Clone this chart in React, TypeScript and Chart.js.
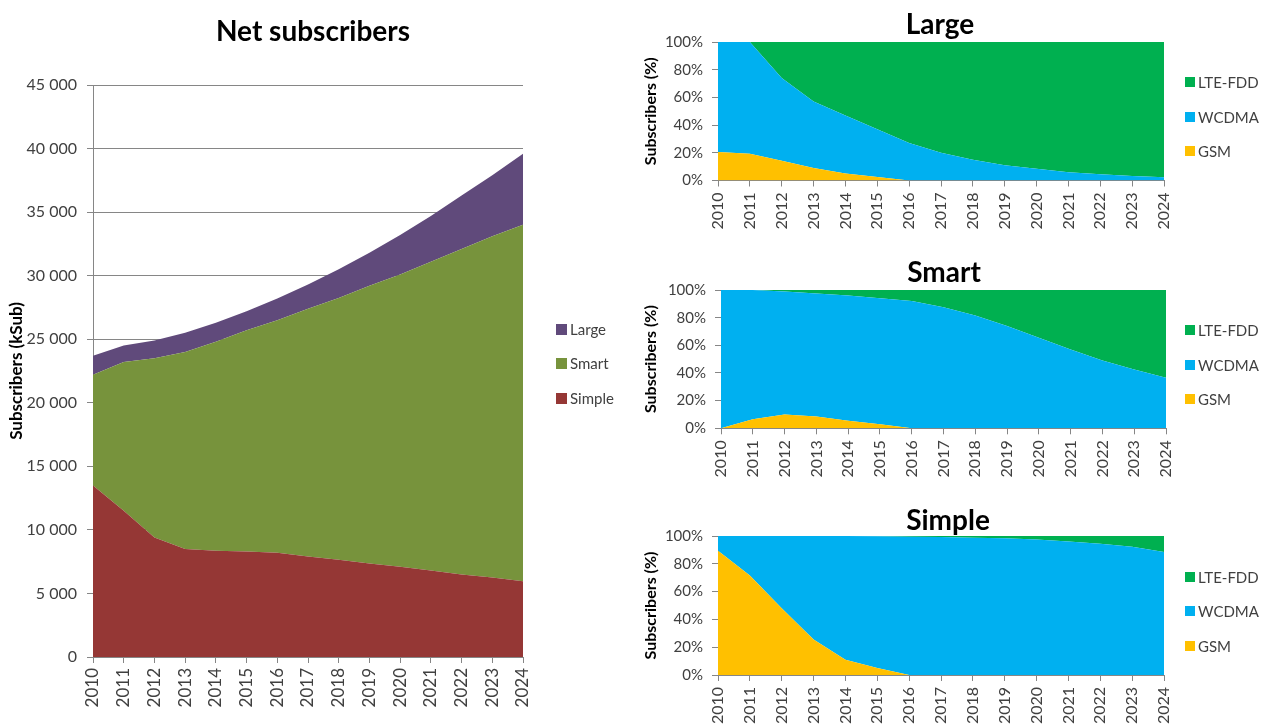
import React, { useEffect, useRef } from 'react';
import { Chart, registerables } from 'chart.js';

Chart.register(...registerables);

// ---------- data ----------
const YEARS = ['2010', '2011', '2012', '2013', '2014', '2015', '2016', '2017', '2018', '2019', '2020', '2021', '2022', '2023', '2024'];

// Net subscribers (kSub)
const SIMPLE_SUBS = [13500, 11500, 9400, 8500, 8350, 8300, 8200, 7900, 7650, 7350, 7100, 6800, 6500, 6250, 5950];
const SMART_SUBS = [8700, 11700, 14100, 15500, 16450, 17400, 18300, 19500, 20600, 21850, 23000, 24300, 25600, 26850, 28050];
const LARGE_SUBS = [1500, 1300, 1400, 1500, 1500, 1500, 1700, 1900, 2250, 2600, 3100, 3600, 4200, 4800, 5600];

// Large (%)
const LARGE_GSM = [20.5, 19.3, 14.3, 9, 5, 2.5, 0, 0, 0, 0, 0, 0, 0, 0, 0];
const LARGE_WCDMA = [79.5, 80.7, 59.7, 48, 42, 34.5, 27, 20, 15, 11, 8.5, 6, 4.5, 3.3, 2.3];
const LARGE_LTE = [0, 0, 26, 43, 53, 63, 73, 80, 85, 89, 91.5, 94, 95.5, 96.7, 97.7];

// Smart (%)
const SMART_GSM = [0, 6.5, 10, 8.5, 5.5, 3, 0, 0, 0, 0, 0, 0, 0, 0, 0];
const SMART_WCDMA = [100, 93.5, 89, 89, 90.5, 91, 92, 87.5, 81.5, 74, 65.5, 57, 49, 42.5, 36.5];
const SMART_LTE = [0, 0, 1, 2.5, 4, 6, 8, 12.5, 18.5, 26, 34.5, 43, 51, 57.5, 63.5];

// Simple (%)
const SIMPLE_GSM = [89.4, 71.5, 48, 25.5, 11, 5, 0, 0, 0, 0, 0, 0, 0, 0, 0];
const SIMPLE_WCDMA = [10.6, 28.5, 52, 74.5, 89, 94.8, 99.5, 99.2, 98.8, 98.3, 97.4, 96, 94.5, 92.2, 88.5];
const SIMPLE_LTE = [0, 0, 0, 0, 0, 0.2, 0.5, 0.8, 1.2, 1.7, 2.6, 4, 5.5, 7.8, 11.5];

const SUBS_TICKS_MAX = 45000;
const SUBS_TICKS_STEP = 5000;
const PCT_TICKS_STEP = 20;

// ---------- styles ----------
const C_SIMPLE = '#953735';
const C_SMART = '#77933C';
const C_LARGE = '#604A7B';
const C_GSM = '#FFC000';
const C_WCDMA = '#00B0F0';
const C_LTE = '#00B050';
const AXIS = '#868686';
const TXT = '#404040';
const FONT = "Lato, 'Open Sans', sans-serif";

Chart.defaults.font.family = FONT;

type Series = { label: string; data: number[]; color: string };
type Box = { left: number; top: number; width: number; height: number; pl: number; pt: number; pr: number; pb: number };

const fmtK = (v: number) => {
  if (v === 0) return '0';
  const th = Math.floor(v / 1000);
  const r = v % 1000;
  return th + ' ' + String(r).padStart(3, '0');
};
const fmtPct = (v: number) => v + '%';

function AreaCanvas(props: {
  box: Box;
  series: Series[];
  yMax: number;
  yStep: number;
  fmt: (v: number) => string;
  yTitle: string;
  yTitleSize: number;
  yTitlePad: number;
  yTickSize: number;
  xTickSize: number;
  xTickPad: number;
  yTickPad: number;
  gridLines: boolean;
}) {
  const ref = useRef<HTMLCanvasElement | null>(null);
  useEffect(() => {
    const b = props.box;
    const padTop = b.pt - b.top;
    const padRight = b.left + b.width - b.pr;
    const yW = b.pl - b.left;
    const xH = b.top + b.height - b.pb;
    const chart = new Chart(ref.current as HTMLCanvasElement, {
      type: 'line',
      data: {
        labels: YEARS,
        datasets: props.series.map((s, i) => ({
          label: s.label,
          data: s.data,
          backgroundColor: s.color,
          borderColor: 'rgba(0,0,0,0)',
          borderWidth: 1,
          pointRadius: 0,
          pointHoverRadius: 0,
          tension: 0,
          fill: i === 0 ? 'origin' : '-1',
        })),
      },
      options: {
        responsive: false,
        animation: false,
        devicePixelRatio: 1,
        events: [],
        layout: { padding: { top: padTop, right: padRight, bottom: 0, left: 0 } },
        plugins: {
          legend: { display: false },
          title: { display: false },
          tooltip: { enabled: false },
        },
        scales: {
          x: {
            type: 'category',
            offset: false,
            grid: { display: true, drawOnChartArea: false, drawTicks: true, tickLength: 6, color: AXIS },
            border: { display: true, color: AXIS },
            ticks: {
              autoSkip: false,
              minRotation: 90,
              maxRotation: 90,
              padding: props.xTickPad,
              color: TXT,
              font: { size: props.xTickSize, family: FONT },
            },
            afterFit: (s: any) => {
              s.height = xH;
            },
          },
          y: {
            stacked: true,
            min: 0,
            max: props.yMax,
            ticks: {
              stepSize: props.yStep,
              callback: (v: any) => props.fmt(Number(v)),
              color: TXT,
              padding: props.yTickPad,
              font: { size: props.yTickSize, family: FONT },
            },
            grid: { display: true, drawOnChartArea: props.gridLines, drawTicks: true, tickLength: 6, color: AXIS },
            border: { display: true, color: AXIS },
            title: {
              display: true,
              text: props.yTitle,
              color: '#000',
              font: { size: props.yTitleSize, weight: 'bold', family: FONT },
              padding: { top: props.yTitlePad, bottom: 0 },
            },
            afterFit: (s: any) => {
              s.width = yW;
            },
          },
        },
      } as any,
    });
    return () => chart.destroy();
  }, []);
  const b = props.box;
  return (
    <canvas
      ref={ref}
      width={b.width}
      height={b.height}
      style={{ position: 'absolute', left: b.left, top: b.top, width: b.width, height: b.height }}
    />
  );
}

function Title(props: { text: string; cx: number; cy: number; size: number }) {
  const w = 300;
  return (
    <div
      style={{
        position: 'absolute',
        left: props.cx - w / 2,
        top: props.cy - props.size * 0.525,
        width: w,
        height: props.size,
        lineHeight: props.size + 'px',
        fontSize: props.size,
        fontWeight: 'bold',
        fontFamily: FONT,
        textAlign: 'center',
        color: '#000',
        whiteSpace: 'nowrap',
      }}
    >
      {props.text}
    </div>
  );
}

function Legend(props: { items: { label: string; color: string; cy: number }[]; x: number; size: number; fontSize: number }) {
  return (
    <>
      {props.items.map((it) => (
        <div
          key={it.label}
          style={{
            position: 'absolute',
            left: props.x,
            top: it.cy - 10,
            height: 20,
            display: 'flex',
            alignItems: 'center',
            fontFamily: FONT,
            fontSize: props.fontSize,
            color: TXT,
            whiteSpace: 'nowrap',
          }}
        >
          <span style={{ display: 'inline-block', width: props.size, height: props.size, background: it.color, marginRight: 3 }} />
          <span style={{ lineHeight: '20px' }}>{it.label}</span>
        </div>
      ))}
    </>
  );
}

const PCT_SERIES = (gsm: number[], wcdma: number[], lte: number[]): Series[] => [
  { label: 'GSM', data: gsm, color: C_GSM },
  { label: 'WCDMA', data: wcdma, color: C_WCDMA },
  { label: 'LTE-FDD', data: lte, color: C_LTE },
];

export default function App() {
  const pctCommon = {
    yMax: 100,
    yStep: PCT_TICKS_STEP,
    fmt: fmtPct,
    yTitle: 'Subscribers (%)',
    yTitleSize: 16,
    yTitlePad: 1,
    yTickSize: 15,
    xTickSize: 16,
    xTickPad: 6,
    yTickPad: 9,
    gridLines: false,
  };
  const legendPct = (base: number) => [
    { label: 'LTE-FDD', color: C_LTE, cy: base },
    { label: 'WCDMA', color: C_WCDMA, cy: base + 34.5 },
    { label: 'GSM', color: C_GSM, cy: base + 69 },
  ];
  return (
    <div style={{ position: 'fixed', left: 0, top: 0, width: 1271, height: 728, background: '#fff', overflow: 'hidden' }}>
      <AreaCanvas
        box={{ left: 0, top: 0, width: 640, height: 728, pl: 93, pt: 85, pr: 523, pb: 657 }}
        series={[
          { label: 'Simple', data: SIMPLE_SUBS, color: C_SIMPLE },
          { label: 'Smart', data: SMART_SUBS, color: C_SMART },
          { label: 'Large', data: LARGE_SUBS, color: C_LARGE },
        ]}
        yMax={SUBS_TICKS_MAX}
        yStep={SUBS_TICKS_STEP}
        fmt={fmtK}
        yTitle="Subscribers (kSub)"
        yTitleSize={17}
        yTitlePad={6}
        yTickSize={16}
        xTickSize={17}
        xTickPad={5}
        yTickPad={10}
        gridLines={true}
      />
      <Title text="Net subscribers" cx={313} cy={31} size={28} />
      <Legend
        x={556}
        size={11}
        fontSize={15}
        items={[
          { label: 'Large', color: C_LARGE, cy: 329 },
          { label: 'Smart', color: C_SMART, cy: 363 },
          { label: 'Simple', color: C_SIMPLE, cy: 398 },
        ]}
      />

      <AreaCanvas
        box={{ left: 640, top: 0, width: 631, height: 245, pl: 718, pt: 42, pr: 1164, pb: 180.5 }}
        series={PCT_SERIES(LARGE_GSM, LARGE_WCDMA, LARGE_LTE)}
        {...pctCommon}
      />
      <Title text="Large" cx={940} cy={24} size={28} />
      <Legend x={1185} size={10} fontSize={15} items={legendPct(82)} />

      <AreaCanvas
        box={{ left: 640, top: 245, width: 631, height: 245, pl: 721, pt: 290, pr: 1166, pb: 428.3 }}
        series={PCT_SERIES(SMART_GSM, SMART_WCDMA, SMART_LTE)}
        {...pctCommon}
      />
      <Title text="Smart" cx={944} cy={272} size={28} />
      <Legend x={1185} size={10} fontSize={15} items={legendPct(330)} />

      <AreaCanvas
        box={{ left: 640, top: 490, width: 631, height: 238, pl: 718, pt: 536, pr: 1164, pb: 675 }}
        series={PCT_SERIES(SIMPLE_GSM, SIMPLE_WCDMA, SIMPLE_LTE)}
        {...pctCommon}
      />
      <Title text="Simple" cx={948} cy={520} size={28} />
      <Legend x={1185} size={10} fontSize={15} items={legendPct(576.7)} />
    </div>
  );
}
